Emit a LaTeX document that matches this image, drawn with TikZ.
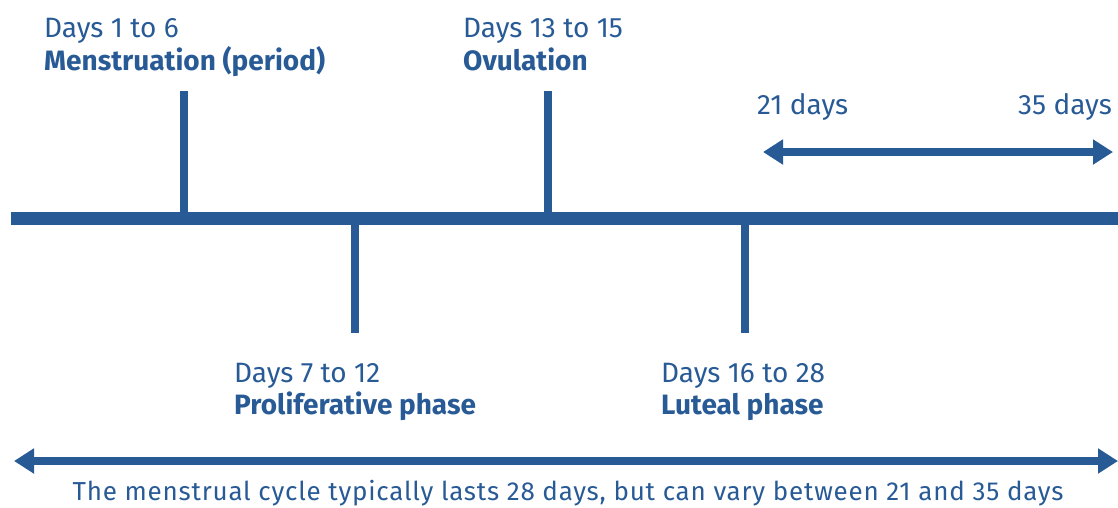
\documentclass[tikz,border=0pt]{standalone}
\usepackage{fontspec}
\setmainfont{Fira Sans}
\usetikzlibrary{arrows.meta}
\definecolor{cblue}{HTML}{285A96}
\tikzset{
  bar/.style={draw=cblue, line width=13pt},
  tick/.style={draw=cblue, line width=8pt},
  span/.style={draw=cblue, line width=8pt, {Triangle[width=24pt,length=20pt]}-{Triangle[width=24pt,length=20pt]}, shorten <=0pt, shorten >=0pt},
  lbl/.style={text=cblue, font=\fontsize{28}{32}\selectfont, inner sep=0pt, align=left},
  note/.style={text=cblue, font=\fontsize{26}{30}\selectfont\addfontfeature{LetterSpace=3}, inner sep=0pt},
}
\begin{document}
\begin{tikzpicture}[x=1pt,y=-1pt]
\useasboundingbox (0,0) rectangle (1118,507);
% main timeline
\coordinate (L) at (11,218);
\coordinate (R) at (1118,218);
\draw[bar] (L) -- (R);
% ticks
\coordinate (t1a) at (184,91); \coordinate (t1b) at (184,212);
\coordinate (t3a) at (548,91); \coordinate (t3b) at (548,212);
\coordinate (t2a) at (355,224); \coordinate (t2b) at (355,333);
\coordinate (t4a) at (745,224); \coordinate (t4b) at (745,333);
\draw[tick] (t1a) -- (t1b);
\draw[tick] (t3a) -- (t3b);
\draw[tick] (t2a) -- (t2b);
\draw[tick] (t4a) -- (t4b);
% labels
\node[lbl, anchor=base west] (m1) at (44,37) {Days 1 to 6};
\node[lbl, anchor=base west] (m2) at (44,70) {\bfseries Menstruation (period)};
\node[lbl, anchor=base west] (o1) at (463,37) {Days 13 to 15};
\node[lbl, anchor=base west] (o2) at (463,70) {\bfseries Ovulation};
\node[lbl, anchor=base west] (p1) at (234,382) {Days 7 to 12};
\node[lbl, anchor=base west] (p2) at (234,414) {\bfseries Proliferative phase};
\node[lbl, anchor=base west] (l1) at (661,382) {Days 16 to 28};
\node[lbl, anchor=base west] (l2) at (661,414) {\bfseries Luteal phase};
\node[lbl, anchor=base west] (d21) at (757,114) {21 days};
\node[lbl, anchor=base east] (d35) at (1112,114) {35 days};
% range arrows
\coordinate (a1) at (763,152); \coordinate (a2) at (1113,152);
\draw[span] (a1) -- (a2);
\coordinate (b1) at (14,461); \coordinate (b2) at (1118,461);
\draw[span] (b1) -- (b2);
\node[note, anchor=base] (cap) at (568,500) {The menstrual cycle typically lasts 28 days, but can vary between 21 and 35 days};
\end{tikzpicture}
\end{document}
